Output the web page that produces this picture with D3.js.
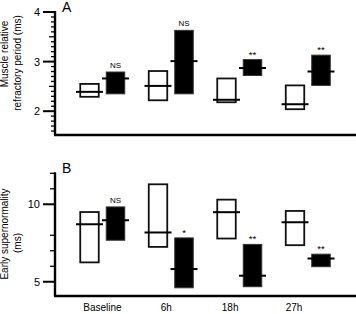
<!DOCTYPE html>
<html>
<head>
<meta charset="utf-8">
<script src="https://cdn.jsdelivr.net/npm/d3@7"></script>
<style>
  body { margin: 0; background: #fff; }
  text { font-family: "Liberation Sans", Arial, sans-serif; fill: #000; }
</style>
</head>
<body>
<div id="content"></div>
<script>
const W = 356, H = 314;

// time points
const groups = ["Baseline", "6h", "18h", "27h"];

// panel A: muscle relative refractory period (ms) -- [low, high, median]
const refrOpen   = [[2.29, 2.55, 2.39], [2.22, 2.81, 2.51], [2.18, 2.66, 2.23], [2.04, 2.52, 2.14]];
const refrFilled = [[2.35, 2.79, 2.66], [2.35, 3.63, 3.01], [2.72, 3.04, 2.87], [2.52, 3.13, 2.80]];
const refrSig    = ["NS", "NS", "**", "**"];

// panel B: early supernormality (ms) -- [low, high, median]
const superOpen   = [[6.25, 9.50, 8.71], [7.25, 11.29, 8.18], [7.79, 10.30, 9.49], [7.36, 9.57, 8.84]];
const superFilled = [[7.68, 9.83, 8.97], [4.61, 7.83, 5.82], [4.68, 7.41, 5.39], [5.97, 6.78, 6.50]];
const superSig    = ["NS", "*", "**", "**"];

const refrTicks = [2, 3, 4];
const superTicks = [5, 10];
const superMinor = [6, 7, 8, 11, 12];

const svg = d3.select("#content").append("svg")
    .attr("width", W).attr("height", H);

const axisX = 55;
const xGroup = d3.scaleLinear().domain([0, 3]).range([102.5, 308]);
const xLabel = d3.scalePoint().domain(groups).range([102.5, 294]);
const boxW = 18.5, lineW = 27, off = 13;

function panel(opts){
    const y = d3.scaleLinear().domain(opts.domain).range(opts.range);
    const g = svg.append("g");

    // axes lines
    g.append("line").attr("x1", axisX).attr("x2", axisX)
        .attr("y1", opts.range[0]).attr("y2", opts.range[1] - 1)
        .attr("stroke", "#000").attr("stroke-width", 2.4);
    g.append("line").attr("x1", axisX - 1).attr("x2", W)
        .attr("y1", opts.range[0]).attr("y2", opts.range[0])
        .attr("stroke", "#000").attr("stroke-width", 2.4);

    // minor ticks
    g.selectAll(".minor").data(opts.minor).enter().append("line")
        .attr("x1", d => axisX - opts.minorLen(d)).attr("x2", axisX)
        .attr("y1", d => y(d)).attr("y2", d => y(d))
        .attr("stroke", "#000").attr("stroke-width", 1.3);
    // major ticks
    g.selectAll(".major").data(opts.ticks).enter().append("line")
        .attr("x1", axisX - 12).attr("x2", axisX)
        .attr("y1", d => y(d)).attr("y2", d => y(d))
        .attr("stroke", "#000").attr("stroke-width", 2);
    g.selectAll(".tl").data(opts.ticks).enter().append("text")
        .attr("x", axisX - 15).attr("y", d => y(d) + 4)
        .attr("text-anchor", "end").attr("font-size", 11)
        .text(d => d);

    // y title
    opts.title.forEach((t, i) => {
        g.append("text")
            .attr("transform", `translate(${8 + i * 13},${opts.titleY[i]}) rotate(-90)`)
            .attr("text-anchor", "middle").attr("font-size", 10)
            .text(t);
    });

    // panel letter
    g.append("text").attr("x", 62).attr("y", opts.range[1] - 0.5)
        .attr("font-size", 14).text(opts.letter);

    function boxes(data, dx, filled){
        const b = g.selectAll(null).data(data).enter();
        b.append("rect")
            .attr("x", (d, i) => xGroup(i) + dx - boxW / 2)
            .attr("y", d => y(d[1]))
            .attr("width", boxW)
            .attr("height", d => y(d[0]) - y(d[1]))
            .attr("fill", filled ? "#000" : "#fff")
            .attr("stroke", filled ? "#333" : "#111")
            .attr("stroke-width", filled ? 1 : 1.8);
        b.append("line")
            .attr("x1", (d, i) => xGroup(i) + dx - lineW / 2)
            .attr("x2", (d, i) => xGroup(i) + dx + lineW / 2)
            .attr("y1", d => y(d[2])).attr("y2", d => y(d[2]))
            .attr("stroke", "#000").attr("stroke-width", 2);
    }
    boxes(opts.open, -off, false);
    boxes(opts.filled, off, true);

    g.selectAll(".sig").data(opts.sig).enter().append("text")
        .attr("x", (d, i) => xGroup(i) + off)
        .attr("y", (d, i) => y(opts.filled[i][1]) - (d === "NS" ? 4 : 2))
        .attr("text-anchor", "middle")
        .attr("font-size", d => d === "NS" ? 8 : 9.5)
        .text(d => d);
}

const refrMinor = d3.range(16, 40).map(v => v / 10).filter(v => Math.abs(v - Math.round(v)) > 0.01);
panel({
    domain: [1.52, 4], range: [135, 12],
    ticks: refrTicks, minor: refrMinor,
    minorLen: d => Math.abs(d * 10 % 10 - 5) < 0.01 ? 6 : 4,
    title: ["Muscle relative", "refractory period (ms)"], titleY: [54, 63],
    letter: "A",
    open: refrOpen, filled: refrFilled, sig: refrSig
});
panel({
    domain: [4.08, 12], range: [296, 173.3],
    ticks: superTicks, minor: superMinor,
    minorLen: () => 5,
    title: ["Early supernormality", "(ms)"], titleY: [234, 243],
    letter: "B",
    open: superOpen, filled: superFilled, sig: superSig
});

svg.selectAll(".xl").data(groups).enter().append("text")
    .attr("x", d => xLabel(d)).attr("y", 311)
    .attr("text-anchor", "middle").attr("font-size", 10)
    .text(d => d);
</script>
</body>
</html>
